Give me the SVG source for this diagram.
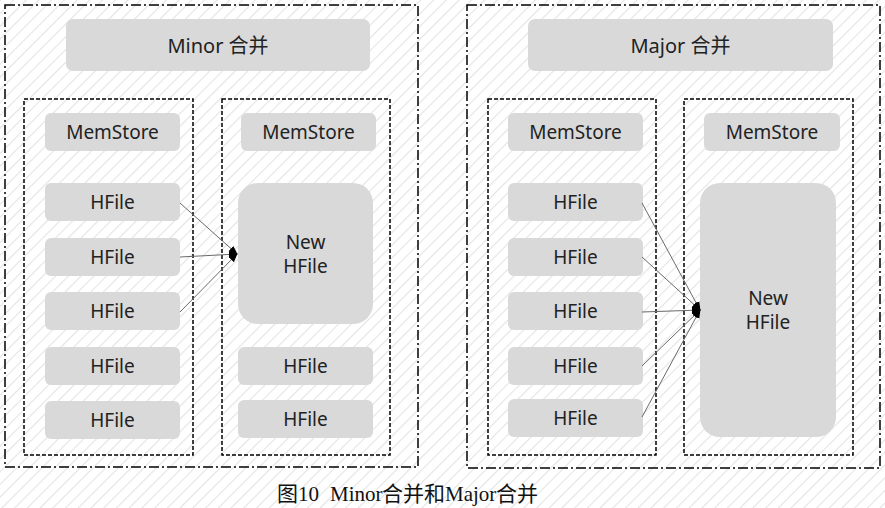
<svg xmlns="http://www.w3.org/2000/svg" width="885" height="508" viewBox="0 0 885 508">
  <defs>
    <pattern id="hatch" width="9" height="9" patternUnits="userSpaceOnUse" patternTransform="rotate(45)">
      <rect width="9" height="9" fill="#ffffff"/>
      <line x1="0" y1="0" x2="0" y2="9" stroke="#e4e4e4" stroke-width="2.2"/>
    </pattern>
    <marker id="tip" viewBox="0 0 10 10" refX="9" refY="5" markerWidth="9" markerHeight="9" markerUnits="userSpaceOnUse" orient="auto">
      <path d="M0,1 L10,5 L0,9 Z" fill="#000"/>
    </marker>
  </defs>
  <style>
    .outer { fill: none; stroke: #000; stroke-width: 1.5; stroke-dasharray: 10 3 2 3; }
    .inner { fill: none; stroke: #000; stroke-width: 1.5; stroke-dasharray: 4 2; }
    .box { fill: #d9d9d9; }
    .lbl { font-family: "Noto Sans", "Noto Sans CJK SC", sans-serif; font-size: 19px; fill: #222; text-anchor: middle; dominant-baseline: central; }
    .title { font-size: 20px; }
    .link { stroke: #6a6a6a; stroke-width: 1; fill: none; marker-end: url(#tip); }
    .cap { font-family: "Liberation Serif", "Noto Sans CJK SC", serif; font-size: 21px; fill: #111; }
  </style>

  <rect width="885" height="508" fill="url(#hatch)"/>

  <!-- Minor compaction panel -->
  <g id="minor">
    <rect class="outer" x="5" y="5" width="413" height="462"/>
    <g id="minor-title">
      <rect class="box" x="66" y="19" width="304" height="52" rx="7"/>
      <text class="lbl title" x="218" y="45">Minor 合并</text>
    </g>
    <g id="minor-before">
      <rect class="inner" x="24" y="99" width="169" height="356"/>
      <g id="m1-memstore"><rect class="box" x="45" y="113" width="135" height="38" rx="6"/><text class="lbl" x="112.5" y="132">MemStore</text></g>
      <g id="m1-h1"><rect class="box" x="45" y="183" width="135" height="38" rx="6"/><text class="lbl" x="112.5" y="202">HFile</text></g>
      <g id="m1-h2"><rect class="box" x="45" y="238" width="135" height="38" rx="6"/><text class="lbl" x="112.5" y="257">HFile</text></g>
      <g id="m1-h3"><rect class="box" x="45" y="292" width="135" height="38" rx="6"/><text class="lbl" x="112.5" y="311">HFile</text></g>
      <g id="m1-h4"><rect class="box" x="45" y="347" width="135" height="38" rx="6"/><text class="lbl" x="112.5" y="366">HFile</text></g>
      <g id="m1-h5"><rect class="box" x="45" y="401" width="135" height="38" rx="6"/><text class="lbl" x="112.5" y="420">HFile</text></g>
    </g>
    <g id="minor-after">
      <rect class="inner" x="222" y="99" width="168" height="356"/>
      <g id="m2-memstore"><rect class="box" x="241" y="113" width="135" height="38" rx="6"/><text class="lbl" x="308.5" y="132">MemStore</text></g>
      <g id="m2-new">
        <rect class="box" x="238" y="183" width="135" height="141" rx="20"/>
        <text class="lbl" x="305.5" y="242">New</text>
        <text class="lbl" x="305.5" y="266">HFile</text>
      </g>
      <g id="m2-h1"><rect class="box" x="238" y="347" width="135" height="38" rx="6"/><text class="lbl" x="305.5" y="366">HFile</text></g>
      <g id="m2-h2"><rect class="box" x="238" y="400" width="135" height="38" rx="6"/><text class="lbl" x="305.5" y="419">HFile</text></g>
    </g>
  </g>

  <!-- Major compaction panel -->
  <g id="major">
    <rect class="outer" x="467" y="5" width="413" height="463"/>
    <g id="major-title">
      <rect class="box" x="528" y="19" width="305" height="52" rx="7"/>
      <text class="lbl title" x="680.5" y="45">Major 合并</text>
    </g>
    <g id="major-before">
      <rect class="inner" x="488" y="99" width="168" height="356"/>
      <g id="j1-memstore"><rect class="box" x="508" y="113" width="135" height="38" rx="6"/><text class="lbl" x="575.5" y="132">MemStore</text></g>
      <g id="j1-h1"><rect class="box" x="508" y="183" width="135" height="38" rx="6"/><text class="lbl" x="575.5" y="202">HFile</text></g>
      <g id="j1-h2"><rect class="box" x="508" y="238" width="135" height="38" rx="6"/><text class="lbl" x="575.5" y="257">HFile</text></g>
      <g id="j1-h3"><rect class="box" x="508" y="292" width="135" height="38" rx="6"/><text class="lbl" x="575.5" y="311">HFile</text></g>
      <g id="j1-h4"><rect class="box" x="508" y="347" width="135" height="38" rx="6"/><text class="lbl" x="575.5" y="366">HFile</text></g>
      <g id="j1-h5"><rect class="box" x="508" y="399" width="135" height="38" rx="6"/><text class="lbl" x="575.5" y="418">HFile</text></g>
    </g>
    <g id="major-after">
      <rect class="inner" x="684" y="99" width="169" height="356"/>
      <g id="j2-memstore"><rect class="box" x="704" y="113" width="136" height="38" rx="6"/><text class="lbl" x="772" y="132">MemStore</text></g>
      <g id="j2-new">
        <rect class="box" x="700" y="183" width="136" height="254" rx="20"/>
        <text class="lbl" x="768" y="298">New</text>
        <text class="lbl" x="768" y="322">HFile</text>
      </g>
    </g>
  </g>

  <!-- merge connectors -->
  <g id="connectors">
    <line class="link" x1="180" y1="203" x2="237" y2="254"/>
    <line class="link" x1="180" y1="257" x2="237" y2="254"/>
    <line class="link" x1="180" y1="312" x2="237" y2="254"/>
    <line class="link" x1="642" y1="203" x2="700" y2="310"/>
    <line class="link" x1="642" y1="257" x2="700" y2="310"/>
    <line class="link" x1="642" y1="312" x2="700" y2="310"/>
    <line class="link" x1="642" y1="366" x2="700" y2="310"/>
    <line class="link" x1="642" y1="417" x2="700" y2="310"/>
  </g>

  <text class="cap" y="501"><tspan x="277">图</tspan><tspan x="298">10</tspan><tspan x="330">Minor</tspan><tspan x="382">合并和</tspan><tspan x="445">Major</tspan><tspan x="496">合并</tspan></text>
</svg>
